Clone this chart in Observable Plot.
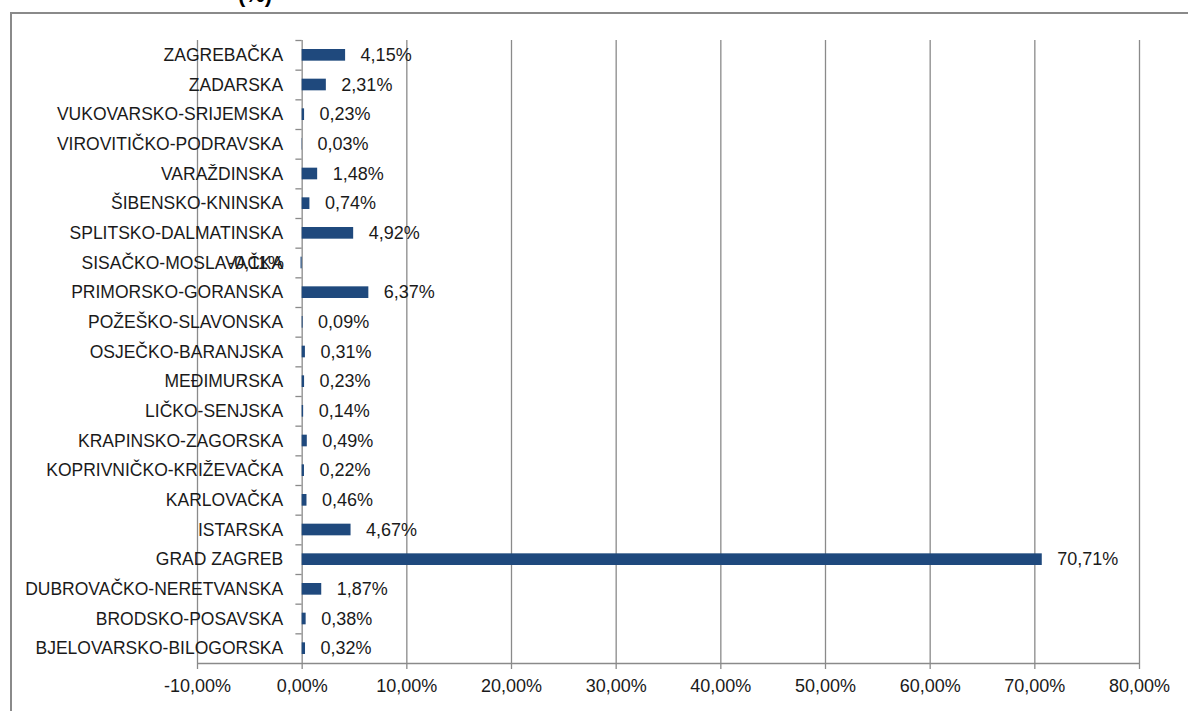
<!DOCTYPE html>
<html>
<head>
<meta charset="utf-8">
<script src="https://cdn.jsdelivr.net/npm/d3@7"></script>
<script src="https://cdn.jsdelivr.net/npm/@observablehq/plot@0.6"></script>
<style>
  html, body { margin: 0; padding: 0; background: #fff; }
  #wrap { position: relative; width: 1188px; height: 711px; overflow: hidden; font-family: "Liberation Sans", Arial, sans-serif; }
  #frame { position: absolute; left: 10px; top: 12px; width: 1200px; height: 720px; border: 2px solid #8a8a8a; box-sizing: border-box; }
  #title { position: absolute; left: 200px; width: 110px; text-align: center; top: -18px; font-weight: bold; font-size: 22px; color: #000; }
  #chart { position: absolute; left: 0; top: 0; }
</style>
</head>
<body>
<div id="wrap">
  <div id="frame"></div>
  <div id="title">(%)</div>
  <div id="chart"></div>
</div>
<script>
const counties = [
  "ZAGREBAČKA", "ZADARSKA", "VUKOVARSKO-SRIJEMSKA", "VIROVITIČKO-PODRAVSKA",
  "VARAŽDINSKA", "ŠIBENSKO-KNINSKA", "SPLITSKO-DALMATINSKA", "SISAČKO-MOSLAVAČKA",
  "PRIMORSKO-GORANSKA", "POŽEŠKO-SLAVONSKA", "OSJEČKO-BARANJSKA", "MEĐIMURSKA",
  "LIČKO-SENJSKA", "KRAPINSKO-ZAGORSKA", "KOPRIVNIČKO-KRIŽEVAČKA", "KARLOVAČKA",
  "ISTARSKA", "GRAD ZAGREB", "DUBROVAČKO-NERETVANSKA", "BRODSKO-POSAVSKA",
  "BJELOVARSKO-BILOGORSKA"
];
const shares = [
  4.15, 2.31, 0.23, 0.03,
  1.48, 0.74, 4.92, -0.11,
  6.37, 0.09, 0.31, 0.23,
  0.14, 0.49, 0.22, 0.46,
  4.67, 70.71, 1.87, 0.38,
  0.32
];
const xTicks = [-10, 0, 10, 20, 30, 40, 50, 60, 70, 80];

const data = counties.map((c, i) => ({county: c, value: shares[i]}));
const fmt = v => v.toFixed(2).replace(".", ",") + "%";

const W = 1188, H = 711;
const mTop = 40, mBottom = 48, mLeft = 197, mRight = 49;
const bw = (H - mTop - mBottom) / counties.length;
const gray = "#8a8a8a";
const barColor = "#1F497D";
const ink = "#1a1a1a";

const chart = Plot.plot({
  width: W,
  height: H,
  marginTop: mTop,
  marginBottom: mBottom,
  marginLeft: mLeft,
  marginRight: mRight,
  style: {fontFamily: "Liberation Sans, Arial, sans-serif", fontSize: "18px", color: ink, background: "transparent", overflow: "visible"},
  x: {domain: [-10, 80], ticks: xTicks},
  y: {domain: counties, padding: 0, round: false, axis: null},
  marks: [
    Plot.gridX(xTicks, {stroke: gray, strokeOpacity: 1, strokeWidth: 1.3}),
    // category boundary ticks on the vertical axis (which crosses at 0)
    Plot.ruleY(counties, {x1: -0.6, x2: 0, dy: -bw / 2, stroke: gray, strokeWidth: 1.3}),
    // horizontal axis line
    Plot.ruleY([counties[counties.length - 1]], {x1: -10, x2: 80, dy: bw / 2, stroke: gray, strokeWidth: 1.3}),
    Plot.axisX({ticks: xTicks, tickFormat: fmt, tickSize: 6, tickPadding: 10, stroke: gray, strokeWidth: 1.3, fontSize: 18, fill: ink, label: null}),
    // category labels next to the vertical axis at x = 0
    Plot.text(counties, {x: () => 0, y: d => d, text: d => d, textAnchor: "end", dx: -19, fontSize: 17.5, fill: ink}),
    Plot.barX(data, {x: "value", y: "county", fill: barColor, insetTop: 9, insetBottom: 9}),
    Plot.text(data.filter(d => d.value >= 0), {x: "value", y: "county", text: d => fmt(d.value), textAnchor: "start", dx: 15, fontSize: 18, fill: ink}),
    Plot.text(data.filter(d => d.value < 0), {x: "value", y: "county", text: d => fmt(d.value), textAnchor: "end", dx: -17, fontSize: 18, fill: ink})
  ]
});
document.getElementById("chart").appendChild(chart);
</script>
</body>
</html>
